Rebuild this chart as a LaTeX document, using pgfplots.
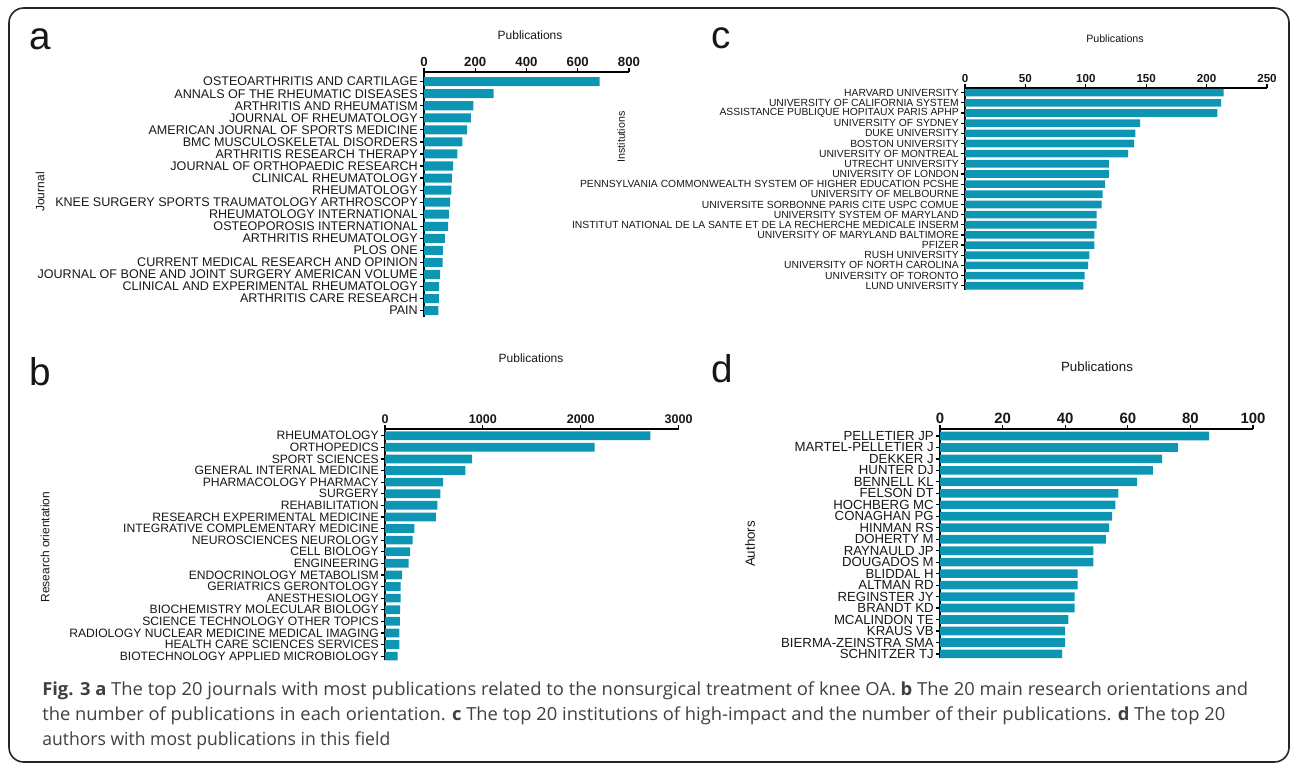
\documentclass[border=0pt]{standalone}
\usepackage{pgfplots}
\pgfplotsset{compat=1.18}
\usepackage{fontspec}
\usepackage{graphicx}
\setmainfont{Liberation Sans}
\newfontfamily\capfont{Open Sans}
\definecolor{barc}{RGB}{12,150,180}
\definecolor{capc}{RGB}{64,64,64}
\definecolor{txt}{RGB}{25,22,22}
\pgfplotsset{hb/.style={
  scale only axis, xbar, bar width=0.75,
  axis x line*=top, axis y line*=left,
  tick align=outside, xmin=0, clip=false,
  ytick={0,...,19}, enlarge x limits=false, enlarge y limits=false,
  major tick length=3pt,
  axis line style={line width=1pt, black},
  tick style={line width=0.9pt, black},
  /pgf/number format/assume math mode=true,
  /pgf/number format/1000 sep={},
  scaled x ticks=false,
  y tick label style={inner sep=1.5pt, text=txt},
  x tick label style={inner sep=1pt, text=txt},
}}
\begin{document}
\begin{tikzpicture}[x=0.75pt,y=0.75pt]
\path[use as bounding box] (0,0) rectangle (1292,-764);
\draw[rounded corners=11pt, line width=1.2pt, black!85] (9,-8) rectangle (1289,-762);
% panel letters
\node[anchor=base west, inner sep=0, font=\fontsize{29}{29}\selectfont, text=txt] at (29,-49) {a};
\node[anchor=base west, inner sep=0, font=\fontsize{29}{29}\selectfont, text=txt] at (711,-48) {c};
\node[anchor=base west, inner sep=0, font=\fontsize{29}{29}\selectfont, text=txt] at (29,-385) {b};
\node[anchor=base west, inner sep=0, font=\fontsize{29}{29}\selectfont, text=txt] at (711,-382) {d};
% Publications titles
\node[font=\fontsize{9}{9}\selectfont, text=txt] at (530,-35) {Publications};
\node[font=\fontsize{8}{8}\selectfont, text=txt] at (1115,-39) {Publications};
\node[font=\fontsize{9}{9}\selectfont, text=txt] at (531,-358) {Publications};
\node[font=\fontsize{10}{10}\selectfont, text=txt] at (1097,-367) {Publications};
% y labels
\node[rotate=90, font=\fontsize{9}{9}\selectfont, text=txt] at (40,-192) {Journal};
\node[rotate=90, font=\fontsize{8}{8}\selectfont, text=txt] at (621,-137) {Institutions};
\node[rotate=90, font=\fontsize{9}{9}\selectfont, text=txt] at (45,-547) {Research orientation};
\node[rotate=90, font=\fontsize{10}{10}\selectfont, text=txt] at (750,-544) {Authors};

% ---------- panel a
\begin{axis}[hb, at={(318pt,-54pt)}, anchor=north west,
  width=153.75pt, height=183.5pt,
  xmax=800, xtick={0,200,400,600,800},
  ymin=-0.5, ymax=19.8,
  x tick label style={font=\bfseries\fontsize{9.9}{9.9}\selectfont},
  y tick label style={font=\fontsize{9.42}{9.42}\selectfont},
  yticklabels={PAIN, ARTHRITIS CARE RESEARCH, CLINICAL AND EXPERIMENTAL RHEUMATOLOGY, JOURNAL OF BONE AND JOINT SURGERY AMERICAN VOLUME, CURRENT MEDICAL RESEARCH AND OPINION, PLOS ONE, ARTHRITIS RHEUMATOLOGY, OSTEOPOROSIS INTERNATIONAL, RHEUMATOLOGY INTERNATIONAL, KNEE SURGERY SPORTS TRAUMATOLOGY ARTHROSCOPY, RHEUMATOLOGY, CLINICAL RHEUMATOLOGY, JOURNAL OF ORTHOPAEDIC RESEARCH, ARTHRITIS RESEARCH THERAPY, BMC MUSCULOSKELETAL DISORDERS, AMERICAN JOURNAL OF SPORTS MEDICINE, JOURNAL OF RHEUMATOLOGY, ARTHRITIS AND RHEUMATISM, ANNALS OF THE RHEUMATIC DISEASES, OSTEOARTHRITIS AND CARTILAGE}]
\addplot[fill=barc, draw=none] coordinates {
(685,19) (272,18) (193,17) (183,16) (168,15) (150,14) (130,13) (114,12) (109,11) (107,10)
(102,9) (97,8) (94,7) (81,6) (74,5) (73,4) (63,3) (59,2) (58,1) (56,0)};
\end{axis}

% ---------- panel c
\begin{axis}[hb, at={(723.75pt,-66pt)}, anchor=north west,
  width=226.5pt, height=151.5pt,
  xmax=250, xtick={0,50,100,150,200,250},
  ymin=-0.42, ymax=19.46,
  x tick label style={font=\bfseries\fontsize{8.7}{8.7}\selectfont},
  y tick label style={font=\fontsize{7.76}{7.76}\selectfont},
  yticklabels={LUND UNIVERSITY, UNIVERSITY OF TORONTO, UNIVERSITY OF NORTH CAROLINA, RUSH UNIVERSITY, PFIZER, UNIVERSITY OF MARYLAND BALTIMORE, INSTITUT NATIONAL DE LA SANTE ET DE LA RECHERCHE MEDICALE INSERM, UNIVERSITY SYSTEM OF MARYLAND, UNIVERSITE SORBONNE PARIS CITE USPC COMUE, UNIVERSITY OF MELBOURNE, PENNSYLVANIA COMMONWEALTH SYSTEM OF HIGHER EDUCATION PCSHE, UNIVERSITY OF LONDON, UTRECHT UNIVERSITY, UNIVERSITY OF MONTREAL, BOSTON UNIVERSITY, DUKE UNIVERSITY, UNIVERSITY OF SYDNEY, ASSISTANCE PUBLIQUE HOPITAUX PARIS APHP, UNIVERSITY OF CALIFORNIA SYSTEM, HARVARD UNIVERSITY}]
\addplot[fill=barc, draw=none] coordinates {
(214,19) (212,18) (209,17) (145,16) (141,15) (140,14) (135,13) (119,12) (119,11) (116,10)
(114,9) (113,8) (109,7) (109,6) (107,5) (107,4) (103,3) (102,2) (99,1) (98,0)};
\end{axis}

% ---------- panel b
\begin{axis}[hb, at={(288.75pt,-321.75pt)}, anchor=north west,
  width=220.2pt, height=173.3pt,
  xmax=3000, xtick={0,1000,2000,3000},
  ymin=-0.34, ymax=19.58,
  x tick label style={font=\bfseries\fontsize{9.4}{9.4}\selectfont},
  y tick label style={font=\fontsize{9.1}{9.1}\selectfont},
  yticklabels={BIOTECHNOLOGY APPLIED MICROBIOLOGY, HEALTH CARE SCIENCES SERVICES, RADIOLOGY NUCLEAR MEDICINE MEDICAL IMAGING, SCIENCE TECHNOLOGY OTHER TOPICS, BIOCHEMISTRY MOLECULAR BIOLOGY, ANESTHESIOLOGY, GERIATRICS GERONTOLOGY, ENDOCRINOLOGY METABOLISM, ENGINEERING, CELL BIOLOGY, NEUROSCIENCES NEUROLOGY, INTEGRATIVE COMPLEMENTARY MEDICINE, RESEARCH EXPERIMENTAL MEDICINE, REHABILITATION, SURGERY, PHARMACOLOGY PHARMACY, GENERAL INTERNAL MEDICINE, SPORT SCIENCES, ORTHOPEDICS, RHEUMATOLOGY}]
\addplot[fill=barc, draw=none] coordinates {
(2712,19) (2142,18) (890,17) (822,16) (594,15) (566,14) (534,13) (521,12) (301,11) (283,10)
(256,9) (242,8) (174,7) (160,6) (160,5) (155,4) (151,3) (146,2) (146,1) (128,0)};
\end{axis}

% ---------- panel d
\begin{axis}[hb, at={(705pt,-321.75pt)}, anchor=north west,
  width=234.75pt, height=171.7pt,
  xmax=100, xtick={0,20,40,60,80,100},
  ymin=-0.35, ymax=19.61,
  x tick label style={font=\bfseries\fontsize{11.2}{11.2}\selectfont},
  y tick label style={font=\fontsize{9.9}{9.9}\selectfont},
  yticklabels={SCHNITZER TJ, BIERMA-ZEINSTRA SMA, KRAUS VB, MCALINDON TE, BRANDT KD, REGINSTER JY, ALTMAN RD, BLIDDAL H, DOUGADOS M, RAYNAULD JP, DOHERTY M, HINMAN RS, CONAGHAN PG, HOCHBERG MC, FELSON DT, BENNELL KL, HUNTER DJ, DEKKER J, MARTEL-PELLETIER J, PELLETIER JP}]
\addplot[fill=barc, draw=none] coordinates {
(86,19) (76,18) (71,17) (68,16) (63,15) (57,14) (56,13) (55,12) (54,11) (53,10)
(49,9) (49,8) (44,7) (44,6) (43,5) (43,4) (41,3) (40,2) (40,1) (39,0)};
\end{axis}

% caption
\node[anchor=base west, inner sep=0, text=capc] at (42,-695) {\resizebox{904.5pt}{\height}{\capfont\fontsize{13.5}{13.5}\selectfont \textbf{Fig. 3 a} The top 20 journals with most publications related to the nonsurgical treatment of knee OA. \textbf{b} The 20 main research orientations and}};
\node[anchor=base west, inner sep=0, text=capc] at (42,-720) {\resizebox{887.25pt}{\height}{\capfont\fontsize{13.5}{13.5}\selectfont the number of publications in each orientation. \textbf{c} The top 20 institutions of high-impact and the number of their publications. \textbf{d} The top 20}};
\node[anchor=base west, inner sep=0, text=capc] at (42,-745) {\resizebox{261pt}{\height}{\capfont\fontsize{13.5}{13.5}\selectfont authors with most publications in this field}};
\end{tikzpicture}
\end{document}
